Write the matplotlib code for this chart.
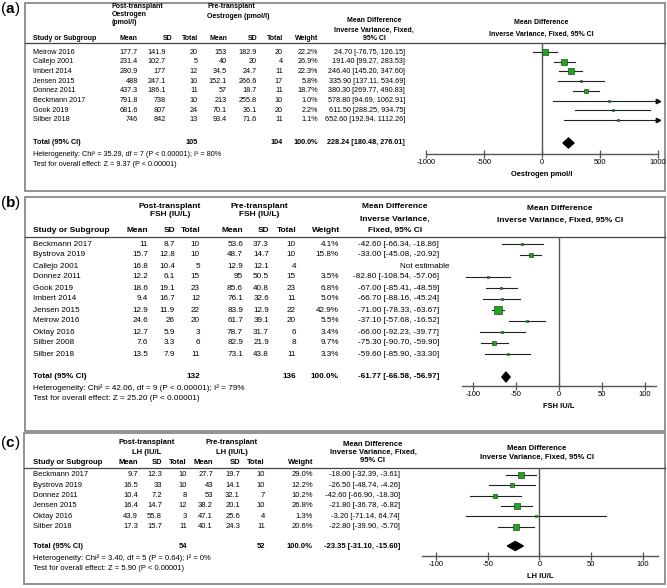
import numpy as np
import matplotlib.pyplot as plt
from matplotlib.patches import Rectangle

plt.rcParams['font.family'] = ['Liberation Sans', 'DejaVu Sans']
plt.rcParams['axes.unicode_minus'] = False

W, H = 667, 588
GREEN = '#22a422'
EDGE = '#1f4f1f'

# ---------------- (a) oestrogen
a_study = ['Meirow 2016', 'Callejo 2001', 'Imbert 2014', 'Jensen 2015', 'Donnez 2011',
           'Beckmann 2017', 'Gook 2019', 'Silber 2018']
a_post_mean = [177.7, 231.4, 280.9, 488, 437.3, 791.8, 681.6, 746]
a_post_sd = [141.9, 102.7, 177, 247.1, 186.1, 738, 807, 842]
a_post_n = [20, 5, 12, 10, 11, 10, 24, 13]
a_pre_mean = [153, 40, 34.5, 152.1, 57, 213, 70.1, 93.4]
a_pre_sd = [182.9, 20, 24.7, 266.6, 18.7, 255.8, 36.1, 71.6]
a_pre_n = [20, 4, 11, 17, 11, 10, 20, 11]
a_weight = [22.2, 26.9, 22.3, 5.8, 18.7, 1.0, 2.2, 1.1]
a_md = [24.70, 191.40, 246.40, 335.90, 380.30, 578.80, 611.50, 652.60]
a_lo = [-76.75, 99.27, 145.20, 137.11, 269.77, 94.69, 288.25, 192.94]
a_hi = [126.15, 283.53, 347.60, 534.69, 490.83, 1062.91, 934.75, 1112.26]
a_tot_n = (105, 104)
a_tot = (228.24, 180.48, 276.01)
a_het = 'Heterogeneity: Chi² = 35.29, df = 7 (P < 0.00001); I² = 80%'
a_z = 'Test for overall effect: Z = 9.37 (P < 0.00001)'
a_ticks = [-1000, -500, 0, 500, 1000]
a_xlabel = 'Oestrogen pmol/l'

# ---------------- (b) FSH
b_study = ['Beckmann 2017', 'Bystrova 2019', 'Callejo 2001', 'Donnez 2011', 'Gook 2019',
           'Imbert 2014', 'Jensen 2015', 'Meirow 2016', 'Oktay 2016', 'Silber 2008',
           'Silber 2018']
b_post_mean = [11, 15.7, 16.8, 12.2, 18.6, 9.4, 12.9, 24.6, 12.7, 7.6, 13.5]
b_post_sd = [8.7, 12.8, 10.4, 6.1, 19.1, 16.7, 11.9, 26, 5.9, 3.3, 7.9]
b_post_n = [10, 10, 5, 15, 23, 12, 22, 20, 3, 6, 11]
b_pre_mean = [53.6, 48.7, 12.9, 95, 85.6, 76.1, 83.9, 61.7, 78.7, 82.9, 73.1]
b_pre_sd = [37.3, 14.7, 12.1, 50.5, 40.8, 32.6, 12.9, 39.1, 31.7, 21.9, 43.8]
b_pre_n = [10, 10, 4, 15, 23, 11, 22, 20, 6, 8, 11]
b_weight = [4.1, 15.8, None, 3.5, 6.8, 5.0, 42.9, 5.5, 3.4, 9.7, 3.3]
b_md = [-42.60, -33.00, None, -82.80, -67.00, -66.70, -71.00, -37.10, -66.00, -75.30, -59.60]
b_lo = [-66.34, -45.08, None, -108.54, -85.41, -88.16, -78.33, -57.68, -92.23, -90.70, -85.90]
b_hi = [-18.86, -20.92, None, -57.06, -48.59, -45.24, -63.67, -16.52, -39.77, -59.90, -33.30]
b_tot_n = (132, 136)
b_tot = (-61.77, -66.58, -56.97)
b_het = 'Heterogeneity: Chi² = 42.06, df = 9 (P < 0.00001); I² = 79%'
b_z = 'Test for overall effect: Z = 25.20 (P < 0.00001)'
b_ticks = [-100, -50, 0, 50, 100]
b_xlabel = 'FSH IU/L'

# ---------------- (c) LH
c_study = ['Beckmann 2017', 'Bystrova 2019', 'Donnez 2011', 'Jensen 2015', 'Oktay 2016',
           'Silber 2018']
c_post_mean = [9.7, 16.5, 10.4, 16.4, 43.9, 17.3]
c_post_sd = [12.3, 33, 7.2, 14.7, 55.8, 15.7]
c_post_n = [10, 10, 8, 12, 3, 11]
c_pre_mean = [27.7, 43, 53, 38.2, 47.1, 40.1]
c_pre_sd = [19.7, 14.1, 32.1, 20.1, 25.6, 24.3]
c_pre_n = [10, 10, 7, 10, 4, 11]
c_weight = [29.0, 12.2, 10.2, 26.8, 1.3, 20.6]
c_md = [-18.00, -26.50, -42.60, -21.80, -3.20, -22.80]
c_lo = [-32.39, -48.74, -66.90, -36.78, -71.14, -39.90]
c_hi = [-3.61, -4.26, -18.30, -6.82, 64.74, -5.70]
c_tot_n = (54, 52)
c_tot = (-23.35, -31.10, -15.60)
c_het = 'Heterogeneity: Chi² = 3.40, df = 5 (P = 0.64); I² = 0%'
c_z = 'Test for overall effect: Z = 5.90 (P < 0.00001)'
c_ticks = [-100, -50, 0, 50, 100]
c_xlabel = 'LH IU/L'

col_names = ['Mean', 'SD', 'Total', 'Mean', 'SD', 'Total', 'Weight']

# layout per panel, in pixels of the 667x588 picture
LA = dict(label='a', box=(25, 3, 665, 191), label_y=9, hline=43, head_y=39,
          row0=52, dy=9.7, total_y=143, het_y=155, z_y=165,
          head_x=[138, 172, 198, 227, 257, 283, 318],
          val_x=[138, 166, 198, 227, 257, 283, 318], md_x=405, ne_x=405,
          groups=[(112, 7, 'Post-transplant', 'left'), (112, 15, 'Oestrogen', 'left'),
                  (112, 23, '(pmol/l)', 'left'), (207, 7, 'Pre-transplant', 'left'),
                  (207, 16, 'Oestrogen (pmol/l)', 'left'),
                  (374, 21, 'Mean Difference', 'center'),
                  (374, 30, 'Inverse Variance, Fixed,', 'center'),
                  (374, 38, '95% CI', 'center'),
                  (541, 22, 'Mean Difference', 'center'),
                  (541, 34, 'Inverse Variance, Fixed, 95% CI', 'center')],
          fp=(426, 658), xlim=(-1000, 1000), axis_y=154, fs=5.2, hfs=5.0, half=5)
LB = dict(label='b', box=(25, 197, 665, 431), label_y=203, hline=237, head_y=230,
          row0=244, dy=11, total_y=377, het_y=388, z_y=398,
          head_x=[148, 175, 200, 243, 269, 296, 340],
          val_x=[148, 175, 200, 243, 269, 296, 339], md_x=439, ne_x=449,
          groups=[(170, 206, 'Post-transplant', 'center'), (170, 215, 'FSH (IU/L)', 'center'),
                  (259, 206, 'Pre-transplant', 'center'), (259, 215, 'FSH (IU/L)', 'center'),
                  (395, 207, 'Mean Difference', 'center'),
                  (395, 219, 'Inverse Variance,', 'center'),
                  (395, 230, 'Fixed, 95% CI', 'center'),
                  (560, 208, 'Mean Difference', 'center'),
                  (560, 220, 'Inverse Variance, Fixed, 95% CI', 'center')],
          fp=(462, 656), xlim=(-113, 113), axis_y=386, fs=5.9, hfs=6.0, half=5)
LC = dict(label='c', box=(24, 433, 665, 584), label_y=443, hline=468, head_y=463,
          row0=475, dy=10.3, total_y=546, het_y=558, z_y=568,
          head_x=[138, 162, 187, 213, 240, 265, 313],
          val_x=[138, 162, 187, 213, 240, 265, 313], md_x=400, ne_x=400,
          groups=[(147, 443, 'Post-transplant', 'center'), (147, 452, 'LH (IU/L', 'center'),
                  (232, 443, 'Pre-transplant', 'center'), (232, 452, 'LH (IU/L)', 'center'),
                  (373, 444, 'Mean Difference', 'center'),
                  (373, 452, 'Inverse Variance, Fixed,', 'center'),
                  (373, 460, '95% CI', 'center'),
                  (537, 448, 'Mean Difference', 'center'),
                  (537, 457, 'Inverse Variance, Fixed, 95% CI', 'center')],
          fp=(422, 658), xlim=(-113.5, 114.5), axis_y=556, fs=5.5, hfs=5.5, half=4.5)


def fmt(v):
    return f'{v:g}'


def draw_panel(base, fig, L, study, cols, weight, md, lo, hi, tot_n, tot, het, z,
               ticks, xlabel):
    x0, y0, x1, y1 = L['box']
    base.add_patch(Rectangle((x0, y0), x1 - x0, y1 - y0, fill=False,
                             ec='#8a8a8a', lw=1.3))
    base.plot([x0, x1], [L['hline'], L['hline']], color='#444444', lw=0.9)
    # panel tag: plain parens, bold letter
    base.text(1, L['label_y'], '(', fontsize=11, va='center', ha='left')
    base.text(5.8, L['label_y'], L['label'], fontsize=11, fontweight='bold',
              va='center', ha='left')
    base.text(15, L['label_y'], ')', fontsize=11, va='center', ha='left')

    fs, hfs = L['fs'], L['hfs']
    for gx, gy, t, ha in L['groups']:
        base.text(gx, gy, t, fontsize=hfs, fontweight='bold', ha=ha, va='center')
    base.text(33, L['head_y'], 'Study or Subgroup', fontsize=hfs, fontweight='bold',
              va='center')
    for hx, name in zip(L['head_x'], col_names):
        base.text(hx, L['head_y'], name, fontsize=hfs, fontweight='bold',
                  ha='right', va='center')

    ys = L['row0'] + L['dy'] * np.arange(len(study))
    for i, y in enumerate(ys):
        base.text(33, y, study[i], fontsize=fs, va='center')
        for cx, col in zip(L['val_x'], cols):
            base.text(cx, y, fmt(col[i]), fontsize=fs, ha='right', va='center')
        if weight[i] is None:
            base.text(L['ne_x'], y, 'Not estimable', fontsize=fs, ha='right', va='center')
        else:
            base.text(L['val_x'][-1], y, f'{weight[i]:.1f}%', fontsize=fs,
                      ha='right', va='center')
            base.text(L['md_x'], y, f'{md[i]:.2f} [{lo[i]:.2f}, {hi[i]:.2f}]',
                      fontsize=fs, ha='right', va='center')

    ty = L['total_y']
    bold = dict(fontsize=fs, fontweight='bold', va='center')
    base.text(33, ty, 'Total (95% CI)', **bold)
    base.text(L['val_x'][2], ty, str(tot_n[0]), ha='right', **bold)
    base.text(L['val_x'][5], ty, str(tot_n[1]), ha='right', **bold)
    base.text(L['val_x'][6], ty, '100.0%', ha='right', **bold)
    base.text(L['md_x'], ty, f'{tot[0]:.2f} [{tot[1]:.2f}, {tot[2]:.2f}]',
              ha='right', **bold)
    base.text(33, L['het_y'], het, fontsize=fs, va='center')
    base.text(33, L['z_y'], z, fontsize=fs, va='center')

    # forest plot
    px0, px1 = L['fp']
    top, bot = L['hline'], L['axis_y']
    ax = fig.add_axes([px0 / W, 1 - bot / H, (px1 - px0) / W, (bot - top) / H])
    ax.set_xlim(*L['xlim'])
    ax.set_ylim(bot, top)
    ax.patch.set_alpha(0)
    for s in ('top', 'left', 'right'):
        ax.spines[s].set_visible(False)
    ax.spines['bottom'].set_color('#555555')
    ax.spines['bottom'].set_linewidth(1.0)
    ax.axvline(0, color='#555555', lw=1.0)
    ax.set_yticks([])
    ax.set_xticks(ticks)
    ax.tick_params(axis='x', direction='inout', length=6, width=0.9, color='#555555',
                   labelsize=5.5, pad=0.5)
    ax.set_xlabel(xlabel, fontsize=5.4, fontweight='bold', labelpad=4)

    xmax = L['xlim'][1]
    for i, y in enumerate(ys):
        if md[i] is None:
            continue
        right = min(hi[i], xmax)
        ax.plot([lo[i], right], [y, y], color='#222222', lw=0.8, clip_on=False)
        if hi[i] > xmax:
            ax.plot(xmax, y, marker='>', ms=3.2, color='#111111', clip_on=False)
        side = max(2.2, 1.15 * np.sqrt(weight[i]))
        ax.plot(md[i], y, marker='s', ms=side * 0.72, mfc=GREEN, mec=EDGE,
                mew=0.5, clip_on=False)
    h = L['half']
    ax.fill([tot[1], tot[0], tot[2], tot[0]], [ty, ty - h, ty, ty + h], color='black')
    return ax


fig = plt.figure(figsize=(W / 100, H / 100), dpi=100)
base = fig.add_axes([0, 0, 1, 1])
base.set_xlim(0, W)
base.set_ylim(H, 0)
base.axis('off')

draw_panel(base, fig, LA, a_study,
           [a_post_mean, a_post_sd, a_post_n, a_pre_mean, a_pre_sd, a_pre_n],
           a_weight, a_md, a_lo, a_hi, a_tot_n, a_tot, a_het, a_z, a_ticks, a_xlabel)
draw_panel(base, fig, LB, b_study,
           [b_post_mean, b_post_sd, b_post_n, b_pre_mean, b_pre_sd, b_pre_n],
           b_weight, b_md, b_lo, b_hi, b_tot_n, b_tot, b_het, b_z, b_ticks, b_xlabel)
draw_panel(base, fig, LC, c_study,
           [c_post_mean, c_post_sd, c_post_n, c_pre_mean, c_pre_sd, c_pre_n],
           c_weight, c_md, c_lo, c_hi, c_tot_n, c_tot, c_het, c_z, c_ticks, c_xlabel)

fig.savefig('out.png', dpi=100)
